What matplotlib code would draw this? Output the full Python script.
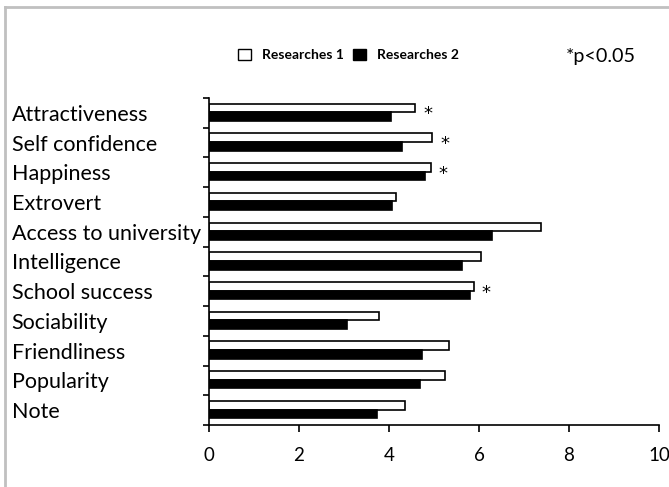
import numpy as np
import matplotlib.pyplot as plt
from matplotlib.patches import Patch
from matplotlib.lines import Line2D

categories = ["Attractiveness", "Self confidence", "Happiness", "Extrovert",
              "Access to university", "Intelligence", "School success",
              "Sociability", "Friendliness", "Popularity", "Note"]
research1 = [4.58, 4.96, 4.93, 4.16, 7.38, 6.04, 5.88, 3.78, 5.34, 5.24, 4.36]
research2 = [4.04, 4.29, 4.80, 4.07, 6.29, 5.62, 5.79, 3.06, 4.74, 4.68, 3.73]
significant = ["Attractiveness", "Self confidence", "Happiness", "School success"]
xticks = [0, 2, 4, 6, 8, 10]

plt.rcParams['font.family'] = ['Lato', 'DejaVu Sans']

fig = plt.figure(figsize=(6.69, 4.87), dpi=100)
ax = fig.add_axes([0.3124, 0.1273, 0.6726, 0.6715])

y = np.arange(len(categories))
h = 0.29
ax.barh(y - 0.165, research1, height=h, color='white', edgecolor='black', linewidth=1.2)
ax.barh(y + 0.125, research2, height=h, color='black', edgecolor='black', linewidth=1.2)

for i, c in enumerate(categories):
    if c in significant:
        ax.text(research1[i] + 0.28, y[i] + 0.05, '*', ha='center', va='center',
                fontsize=13, family='DejaVu Sans')

ax.set_xlim(0, 10)
ax.set_ylim(len(categories) - 0.5, -0.5)
ax.set_xticks(xticks)
ax.set_xticklabels([str(t) for t in xticks], fontsize=13.5)
ax.set_yticks(y)
ax.set_yticklabels(categories, fontsize=15.5, ha='left')
ax.set_yticks(np.arange(len(categories) + 1) - 0.5, minor=True)
ax.tick_params(axis='y', which='major', length=0, pad=142)
ax.tick_params(axis='y', which='minor', length=4, width=1.2, direction='out')
ax.tick_params(axis='x', length=5, width=1.2, direction='out', pad=11)
for s in ['top', 'right']:
    ax.spines[s].set_visible(False)
for s in ['left', 'bottom']:
    ax.spines[s].set_linewidth(1.2)

handles = [Patch(facecolor='white', edgecolor='black', label='Researches 1'),
           Patch(facecolor='black', edgecolor='black', label='Researches 2')]
fig.legend(handles=handles, loc='center', bbox_to_anchor=(0.521, 0.887), ncol=2,
           frameon=False, prop={'weight': 'bold', 'size': 10},
           handlelength=0.9, handleheight=0.9, columnspacing=0.7, handletextpad=0.8)
fig.text(0.845, 0.883, '*p<0.05', fontsize=14.2, ha='left', va='center')

# grey frame on top and left edge
fig.add_artist(Line2D([0.008, 1.0], [0.986, 0.986], color='#c0c0c0', lw=2, transform=fig.transFigure))
fig.add_artist(Line2D([0.008, 0.008], [0.0, 0.986], color='#c0c0c0', lw=2, transform=fig.transFigure))

fig.savefig('out.png', dpi=100)
